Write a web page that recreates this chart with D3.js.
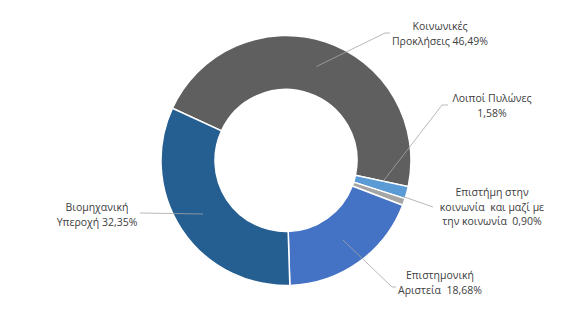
<!DOCTYPE html>
<html>
<head>
<meta charset="utf-8">
<script src="https://cdn.jsdelivr.net/npm/d3@7"></script>
<style>
body { margin: 0; background: #fff; }
text { font-family: "Open Sans", "Noto Sans", sans-serif; font-size: 10.5px; fill: #404040; }
</style>
</head>
<body>
<script>
// Δεδομένα
var kathgories = ["Κοινωνικές Προκλήσεις", "Λοιποί Πυλώνες", "Επιστήμη στην κοινωνία και μαζί με την κοινωνία", "Επιστημονική Αριστεία", "Βιομηχανική Υπεροχή"];
var pososta = [46.49, 1.58, 0.90, 18.68, 32.35];
var etiketes = [
    ["Κοινωνικές", "Προκλήσεις 46,49%"],
    ["Λοιποί Πυλώνες", "1,58%"],
    ["Επιστήμη στην", "κοινωνία  και μαζί με", "την κοινωνία  0,90%"],
    ["Επιστημονική", "Αριστεία  18,68%"],
    ["Βιομηχανική", "Υπεροχή 32,35%"]
];
var xromata = ["#5f5f5f", "#5b9bd5", "#a5a5a5", "#4472c4", "#255e91"];

// θέσεις ετικετών (κέντρο κειμένου, σημείο αγκύρωσης της γραμμής)
var thesiEtiketas = [
    {x: 440, y: 30, ax: 385, ay: 33},
    {x: 492, y: 102, ax: 442, ay: 105},
    {x: 492, y: 196, ax: 433, ay: 207},
    {x: 440, y: 279, ax: 392, ay: 287},
    {x: 97, y: 211, ax: 140, ay: 213}
];

var platos = 570, ypsos = 322;
var cx = 286, cy = 160.5;
var rEks = 125, rEs = 71;

var svg = d3.select("body").append("svg")
    .attr("width", platos)
    .attr("height", ypsos);

var g = svg.append("g").attr("transform", "translate(" + cx + "," + cy + ")");

var pie = d3.pie()
    .sort(null)
    .startAngle(-65.3 * Math.PI / 180)
    .endAngle((360 - 65.3) * Math.PI / 180)
    .value(function(d) { return d; });

var arc = d3.arc().innerRadius(rEs).outerRadius(rEks);

var kommatia = pie(pososta);

g.selectAll("path.slice")
    .data(kommatia)
    .enter().append("path")
    .attr("class", "slice")
    .attr("d", arc)
    .style("fill", function(d, i) { return xromata[i]; })
    .style("stroke", "#fff")
    .style("stroke-width", 1.5);

// γραμμές οδηγοί (σημείο έναρξης μέσα στο κομμάτι)
var simeiaEnarksis = [
    [316.5, 66.5],
    [383, 181.5],
    [403, 196.5],
    [343, 240],
    [203, 214]
];

kommatia.forEach(function(d, i)
{
    var p = thesiEtiketas[i];
    var s = simeiaEnarksis[i];
    var pts = [s, [p.ax, p.ay]];
    if (i == 0) pts.push([p.ax + 5, p.ay]);
    if (i == 1) pts.push([p.ax + 6, p.ay]);
    if (i == 3) pts.push([p.ax + 4, p.ay]);
    svg.append("path")
        .attr("d", d3.line()(pts))
        .style("fill", "none")
        .style("stroke", "#a6a6a6")
        .style("stroke-width", 0.8);
});

// ετικέτες
etiketes.forEach(function(grammes, i)
{
    var p = thesiEtiketas[i];
    var t = svg.append("text")
        .attr("text-anchor", "middle")
        .attr("x", p.x)
        .attr("y", p.y);
    grammes.forEach(function(gr, j)
    {
        t.append("tspan")
            .attr("x", p.x)
            .attr("dy", j == 0 ? 0 : 14.5)
            .attr("xml:space", "preserve")
            .text(gr);
    });
});
</script>
</body>
</html>
